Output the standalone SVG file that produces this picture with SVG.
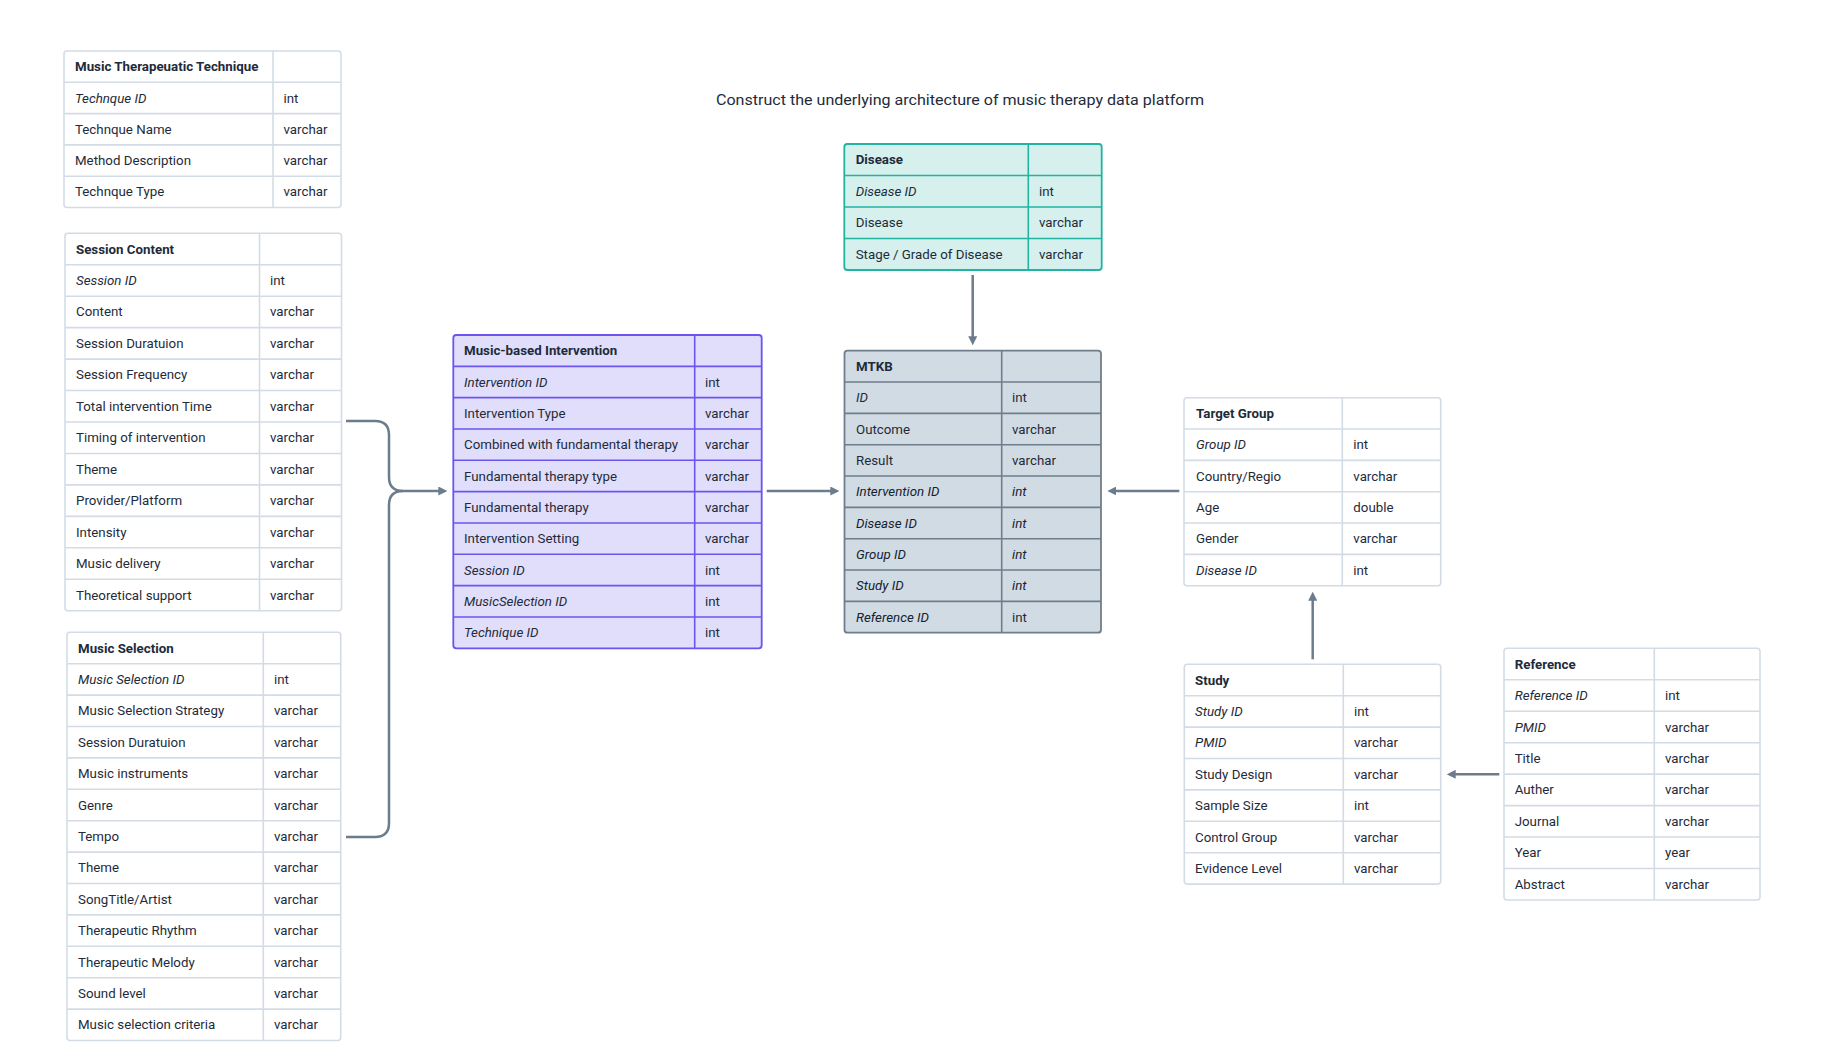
<svg xmlns="http://www.w3.org/2000/svg" width="1838" height="1057" viewBox="0 0 1838 1057">
<defs>
<style>
text{font-family:Roboto,"Liberation Sans",sans-serif;font-size:13.3px;fill:#1e2b3a}
.title{font-size:15.5px;text-anchor:middle}
.h{font-weight:700}
.i{font-style:italic}
.im{font-style:italic;fill:#152231}
.tb{fill:#ffffff;stroke:#d3dce6;stroke-width:1.6}
.gl{stroke:#d3dce6;stroke-width:1.6}
.tbP{fill:#e0defb;stroke:#6b55ef;stroke-width:1.8}
.glP{stroke:#6b55ef;stroke-width:1.6}
.tbT{fill:#d5f0ed;stroke:#22b3a1;stroke-width:1.8}
.glT{stroke:#22b3a1;stroke-width:1.6}
.tbG{fill:#d1dbe3;stroke:#6f7e8c;stroke-width:1.8}
.glG{stroke:#6f7e8c;stroke-width:1.6}
.conn{fill:none;stroke:#6b7c8d;stroke-width:2.5}
</style>
<marker id="arr" viewBox="0 0 10 10" refX="3" refY="5" markerWidth="9" markerHeight="9" markerUnits="userSpaceOnUse" orient="auto">
<path d="M0,0 L10,5 L0,10 z" fill="#6b7c8d"/>
</marker>
</defs>
<rect width="1838" height="1057" fill="#ffffff"/>
<text class="title" x="960" y="105" textLength="488" lengthAdjust="spacingAndGlyphs">Construct the underlying architecture of music therapy data platform</text>

<g id="technique">
<rect class="tb" x="64" y="51" width="277" height="156.5" rx="3"/>
<path class="gl" d="M64,82.3H341M64,113.6H341M64,144.9H341M64,176.2H341M273,51V207.5"/>
<text class="h" x="75" y="71.2">Music Therapeuatic Technique</text>
<text class="i" x="75" y="102.5">Technque ID</text><text x="283.5" y="102.5">int</text>
<text x="75" y="133.8">Technque Name</text><text x="283.5" y="133.8">varchar</text>
<text x="75" y="165.1">Method Description</text><text x="283.5" y="165.1">varchar</text>
<text x="75" y="196.4">Technque Type</text><text x="283.5" y="196.4">varchar</text>
</g>

<g id="session-content">
<rect class="tb" x="65" y="233.3" width="276.5" height="377.4" rx="3"/>
<path class="gl" d="M65,264.75H341.5M65,296.2H341.5M65,327.65H341.5M65,359.1H341.5M65,390.55H341.5M65,422H341.5M65,453.45H341.5M65,484.9H341.5M65,516.35H341.5M65,547.8H341.5M65,579.25H341.5M259.5,233.3V610.7"/>
<text class="h" x="76" y="253.5">Session Content</text>
<text class="i" x="76" y="285">Session ID</text><text x="270" y="285">int</text>
<text x="76" y="316.4">Content</text><text x="270" y="316.4">varchar</text>
<text x="76" y="347.9">Session Duratuion</text><text x="270" y="347.9">varchar</text>
<text x="76" y="379.3">Session Frequency</text><text x="270" y="379.3">varchar</text>
<text x="76" y="410.8">Total intervention Time</text><text x="270" y="410.8">varchar</text>
<text x="76" y="442.2">Timing of intervention</text><text x="270" y="442.2">varchar</text>
<text x="76" y="473.7">Theme</text><text x="270" y="473.7">varchar</text>
<text x="76" y="505.1">Provider/Platform</text><text x="270" y="505.1">varchar</text>
<text x="76" y="536.6">Intensity</text><text x="270" y="536.6">varchar</text>
<text x="76" y="568">Music delivery</text><text x="270" y="568">varchar</text>
<text x="76" y="599.5">Theoretical support</text><text x="270" y="599.5">varchar</text>
</g>

<g id="music-selection">
<rect class="tb" x="67" y="632.3" width="273.7" height="408.2" rx="3"/>
<path class="gl" d="M67,663.7H340.7M67,695.1H340.7M67,726.5H340.7M67,757.9H340.7M67,789.3H340.7M67,820.7H340.7M67,852.1H340.7M67,883.5H340.7M67,914.9H340.7M67,946.3H340.7M67,977.7H340.7M67,1009.1H340.7M263.3,632.3V1040.5"/>
<text class="h" x="78" y="652.5">Music Selection</text>
<text class="i" x="78" y="683.9">Music Selection ID</text><text x="274" y="683.9">int</text>
<text x="78" y="715.3">Music Selection Strategy</text><text x="274" y="715.3">varchar</text>
<text x="78" y="746.7">Session Duratuion</text><text x="274" y="746.7">varchar</text>
<text x="78" y="778.1">Music instruments</text><text x="274" y="778.1">varchar</text>
<text x="78" y="809.5">Genre</text><text x="274" y="809.5">varchar</text>
<text x="78" y="840.9">Tempo</text><text x="274" y="840.9">varchar</text>
<text x="78" y="872.3">Theme</text><text x="274" y="872.3">varchar</text>
<text x="78" y="903.7">SongTitle/Artist</text><text x="274" y="903.7">varchar</text>
<text x="78" y="935.1">Therapeutic Rhythm</text><text x="274" y="935.1">varchar</text>
<text x="78" y="966.5">Therapeutic Melody</text><text x="274" y="966.5">varchar</text>
<text x="78" y="997.9">Sound level</text><text x="274" y="997.9">varchar</text>
<text x="78" y="1029.3">Music selection criteria</text><text x="274" y="1029.3">varchar</text>
</g>

<g id="music-based-intervention">
<rect class="tbP" x="453.3" y="335" width="308.4" height="313.3" rx="3"/>
<path class="glP" d="M453.3,366.33H761.7M453.3,397.66H761.7M453.3,428.99H761.7M453.3,460.32H761.7M453.3,491.65H761.7M453.3,522.98H761.7M453.3,554.31H761.7M453.3,585.64H761.7M453.3,616.97H761.7M694.7,335V648.3"/>
<text class="h" x="464" y="355.2">Music-based Intervention</text>
<text class="i" x="464" y="386.5">Intervention ID</text><text x="705" y="386.5">int</text>
<text x="464" y="417.8">Intervention Type</text><text x="705" y="417.8">varchar</text>
<text x="464" y="449.2">Combined with fundamental therapy</text><text x="705" y="449.2">varchar</text>
<text x="464" y="480.5">Fundamental therapy type</text><text x="705" y="480.5">varchar</text>
<text x="464" y="511.8">Fundamental therapy</text><text x="705" y="511.8">varchar</text>
<text x="464" y="543.2">Intervention Setting</text><text x="705" y="543.2">varchar</text>
<text class="i" x="464" y="574.5">Session ID</text><text x="705" y="574.5">int</text>
<text class="i" x="464" y="605.8">MusicSelection ID</text><text x="705" y="605.8">int</text>
<text class="i" x="464" y="637.1">Technique ID</text><text x="705" y="637.1">int</text>
</g>

<g id="disease">
<rect class="tbT" x="844.3" y="144" width="257.4" height="126" rx="3"/>
<path class="glT" d="M844.3,175.5H1101.7M844.3,207H1101.7M844.3,238.5H1101.7M1028.3,144V270"/>
<text class="h" x="855.7" y="164.3">Disease</text>
<text class="i" x="855.7" y="195.8">Disease ID</text><text x="1039" y="195.8">int</text>
<text x="855.7" y="227.3">Disease</text><text x="1039" y="227.3">varchar</text>
<text x="855.7" y="258.8">Stage / Grade of Disease</text><text x="1039" y="258.8">varchar</text>
</g>

<g id="mtkb">
<rect class="tbG" x="844.5" y="350.7" width="256.5" height="282" rx="3"/>
<path class="glG" d="M844.5,382.03H1101M844.5,413.36H1101M844.5,444.69H1101M844.5,476.02H1101M844.5,507.35H1101M844.5,538.68H1101M844.5,570.01H1101M844.5,601.34H1101M1001.7,350.7V632.7"/>
<text class="h" x="856" y="370.9">MTKB</text>
<text class="i" x="856" y="402.2">ID</text><text x="1012" y="402.2">int</text>
<text x="856" y="433.5">Outcome</text><text x="1012" y="433.5">varchar</text>
<text x="856" y="464.8">Result</text><text x="1012" y="464.8">varchar</text>
<text class="im" x="856" y="496.2">Intervention ID</text><text class="im" x="1012" y="496.2">int</text>
<text class="im" x="856" y="527.5">Disease ID</text><text class="im" x="1012" y="527.5">int</text>
<text class="im" x="856" y="558.8">Group ID</text><text class="im" x="1012" y="558.8">int</text>
<text class="im" x="856" y="590.2">Study ID</text><text class="im" x="1012" y="590.2">int</text>
<text class="im" x="856" y="621.5">Reference ID</text><text x="1012" y="621.5">int</text>
</g>

<g id="target-group">
<rect class="tb" x="1184" y="397.7" width="256.7" height="188" rx="3"/>
<path class="gl" d="M1184,429.03H1440.7M1184,460.36H1440.7M1184,491.69H1440.7M1184,523.02H1440.7M1184,554.35H1440.7M1342.3,397.7V585.7"/>
<text class="h" x="1196" y="417.9">Target Group</text>
<text class="i" x="1196" y="449.2">Group ID</text><text x="1353.3" y="449.2">int</text>
<text x="1196" y="480.5">Country/Regio</text><text x="1353.3" y="480.5">varchar</text>
<text x="1196" y="511.8">Age</text><text x="1353.3" y="511.8">double</text>
<text x="1196" y="543.2">Gender</text><text x="1353.3" y="543.2">varchar</text>
<text class="i" x="1196" y="574.5">Disease ID</text><text x="1353.3" y="574.5">int</text>
</g>

<g id="study">
<rect class="tb" x="1184.3" y="664.3" width="256.4" height="219.8" rx="3"/>
<path class="gl" d="M1184.3,695.7H1440.7M1184.3,727.1H1440.7M1184.3,758.5H1440.7M1184.3,789.9H1440.7M1184.3,821.3H1440.7M1184.3,852.7H1440.7M1343.3,664.3V884.1"/>
<text class="h" x="1195" y="684.5">Study</text>
<text class="i" x="1195" y="715.9">Study ID</text><text x="1354" y="715.9">int</text>
<text class="i" x="1195" y="747.3">PMID</text><text x="1354" y="747.3">varchar</text>
<text x="1195" y="778.7">Study Design</text><text x="1354" y="778.7">varchar</text>
<text x="1195" y="810.1">Sample Size</text><text x="1354" y="810.1">int</text>
<text x="1195" y="841.5">Control Group</text><text x="1354" y="841.5">varchar</text>
<text x="1195" y="872.9">Evidence Level</text><text x="1354" y="872.9">varchar</text>
</g>

<g id="reference">
<rect class="tb" x="1504" y="648.3" width="256" height="251.7" rx="3"/>
<path class="gl" d="M1504,679.76H1760M1504,711.22H1760M1504,742.68H1760M1504,774.14H1760M1504,805.6H1760M1504,837.06H1760M1504,868.52H1760M1654.3,648.3V900"/>
<text class="h" x="1514.7" y="668.5">Reference</text>
<text class="i" x="1514.7" y="700">Reference ID</text><text x="1665" y="700">int</text>
<text class="i" x="1514.7" y="731.5">PMID</text><text x="1665" y="731.5">varchar</text>
<text x="1514.7" y="762.9">Title</text><text x="1665" y="762.9">varchar</text>
<text x="1514.7" y="794.4">Auther</text><text x="1665" y="794.4">varchar</text>
<text x="1514.7" y="825.9">Journal</text><text x="1665" y="825.9">varchar</text>
<text x="1514.7" y="857.3">Year</text><text x="1665" y="857.3">year</text>
<text x="1514.7" y="888.8">Abstract</text><text x="1665" y="888.8">varchar</text>
</g>

<g id="connectors">
<path class="conn" d="M346,421 H375 Q389,421 389,435 V477 Q389,491 403,491 H441" marker-end="url(#arr)"/>
<path class="conn" d="M346,837 H375 Q389,837 389,823 V505 Q389,491 403,491"/>
<path class="conn" d="M766.7,491 H833" marker-end="url(#arr)"/>
<path class="conn" d="M972.7,275 V339" marker-end="url(#arr)"/>
<path class="conn" d="M1179.3,491 H1113.6" marker-end="url(#arr)"/>
<path class="conn" d="M1312.7,659.3 V598" marker-end="url(#arr)"/>
<path class="conn" d="M1499.3,774.3 H1453" marker-end="url(#arr)"/>
</g>
</svg>
